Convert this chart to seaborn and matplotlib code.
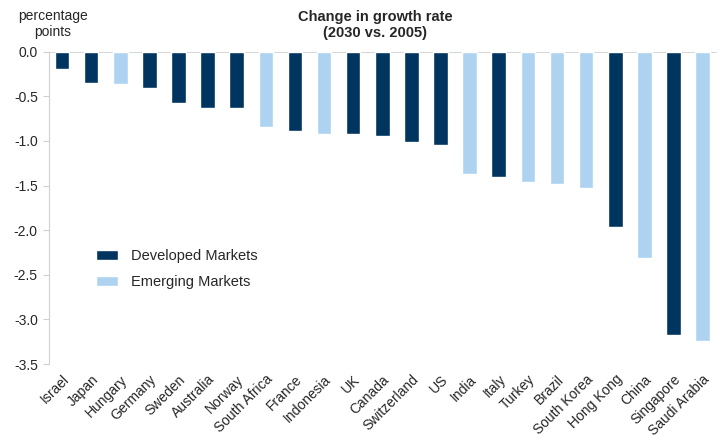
import numpy as np
import pandas as pd
import seaborn as sns
import matplotlib.pyplot as plt
from matplotlib.patches import Patch

countries = ['Israel', 'Japan', 'Hungary', 'Germany', 'Sweden', 'Australia', 'Norway',
             'South Africa', 'France', 'Indonesia', 'UK', 'Canada', 'Switzerland', 'US',
             'India', 'Italy', 'Turkey', 'Brazil', 'South Korea', 'Hong Kong', 'China',
             'Singapore', 'Saudi Arabia']
change = [-0.20, -0.35, -0.36, -0.41, -0.58, -0.63, -0.63, -0.85, -0.89, -0.92, -0.92,
          -0.95, -1.01, -1.05, -1.37, -1.41, -1.46, -1.48, -1.53, -1.96, -2.31, -3.17, -3.24]
market = ['Developed', 'Developed', 'Emerging', 'Developed', 'Developed', 'Developed',
          'Developed', 'Emerging', 'Developed', 'Emerging', 'Developed', 'Developed',
          'Developed', 'Developed', 'Emerging', 'Developed', 'Emerging', 'Emerging',
          'Emerging', 'Developed', 'Emerging', 'Developed', 'Emerging']
legend_labels = ['Developed Markets', 'Emerging Markets']

dark = '#00355F'
light = '#ADD3F0'
grey = '#D0D0D0'

df = pd.DataFrame({'country': countries, 'change': change, 'market': market})

sns.set_style('white')
plt.rcParams['font.family'] = ['Liberation Sans', 'DejaVu Sans']

fig = plt.figure(figsize=(7.2, 4.45), dpi=100)
ax = fig.add_axes([0.068, 0.182, 0.928, 0.702])

sns.barplot(data=df, x='country', y='change', hue='market', dodge=False,
            palette={'Developed': dark, 'Emerging': light}, width=0.5,
            saturation=1, legend=False, ax=ax)

ax.set_ylim(-3.5, 0)
ax.set_xlim(-0.45, len(countries) - 0.5)
ax.set_yticks(np.arange(-3.5, 0.01, 0.5))
ax.set_yticklabels([f'{v:.1f}' for v in np.arange(-3.5, 0.01, 0.5)], fontsize=10)
ax.set_xticks(range(len(countries)))
ax.set_xticklabels(countries, rotation=45, ha='right', rotation_mode='anchor', fontsize=10)
ax.set_xlabel('')
ax.set_ylabel('')

for s in ['top', 'right', 'bottom']:
    ax.spines[s].set_visible(False)
ax.spines['left'].set_color(grey)
ax.axhline(0, color=grey, lw=1.2, zorder=0)
ax.tick_params(axis='y', length=4, color=grey, pad=4, left=True)
ax.tick_params(axis='x', length=0, pad=6)

fig.text(0.521, 0.977, 'Change in growth rate\n(2030 vs. 2005)', ha='center', va='top',
         fontsize=10.5, fontweight='bold', linespacing=1.15)
fig.text(0.073, 0.98, 'percentage\npoints', ha='center', va='top', fontsize=10,
         linespacing=1.15)

handles = [Patch(facecolor=dark), Patch(facecolor=light)]
ax.legend(handles, legend_labels, loc='center left', bbox_to_anchor=(0.070, 0.304),
          frameon=False, fontsize=10.5, handlelength=1.55, handleheight=0.7,
          labelspacing=0.8, handletextpad=0.85, borderpad=0, borderaxespad=0)

plt.savefig('out.png', dpi=100)
